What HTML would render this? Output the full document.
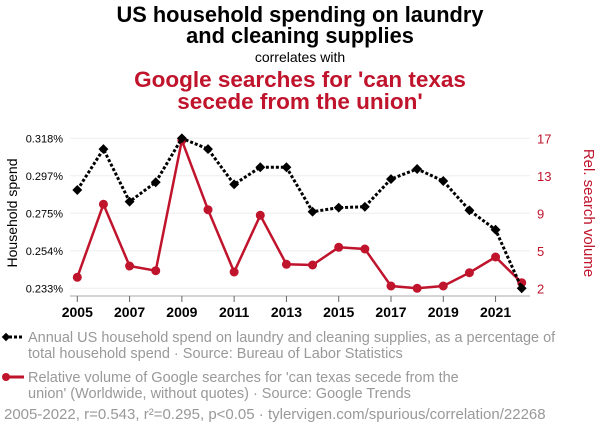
<!DOCTYPE html>
<html><head><meta charset="utf-8"><style>
body{margin:0;background:#fff;width:600px;height:436px;overflow:hidden;font-family:"Liberation Sans",sans-serif}
</style></head><body>
<svg width="600" height="436" font-family="Liberation Sans, sans-serif">
<text x="300" y="22" text-anchor="middle" font-size="21.8" font-weight="bold" fill="#000">US household spending on laundry</text>
<text x="300" y="43" text-anchor="middle" font-size="21.8" font-weight="bold" fill="#000">and cleaning supplies</text>
<text x="300" y="62" text-anchor="middle" font-size="14" fill="#000">correlates with</text>
<text x="300" y="87" text-anchor="middle" font-size="22.5" font-weight="bold" fill="#c0132c">Google searches for 'can texas</text>
<text x="300" y="109" text-anchor="middle" font-size="22.5" font-weight="bold" fill="#c0132c">secede from the union'</text>
<g id="grid"></g><g id="axes"></g><g id="series"></g>
<text transform="translate(17,213) rotate(-90)" text-anchor="middle" font-size="14" fill="#000">Household spend</text>
<text transform="translate(584,213) rotate(90)" text-anchor="middle" font-size="15" fill="#c0132c">Rel. search volume</text>
<g font-size="14.5" fill="#999">
<line x1="4" y1="337" x2="24" y2="337" stroke="#000" stroke-width="3" stroke-dasharray="3,2"/>
<rect x="3" y="334" width="6" height="6" transform="rotate(45 6 337)" fill="#000"/>
<text x="28" y="342">Annual US household spend on laundry and cleaning supplies, as a percentage of</text>
<text x="28" y="358">total household spend · Source: Bureau of Labor Statistics</text>
<line x1="4" y1="377" x2="24" y2="377" stroke="#c0132c" stroke-width="3"/>
<circle cx="6" cy="377" r="4" fill="#c0132c"/>
<text x="28" y="382">Relative volume of Google searches for 'can texas secede from the</text>
<text x="28" y="398">union' (Worldwide, without quotes) · Source: Google Trends</text>
<text x="4" y="419" font-size="15">2005-2022, r=0.543, r²=0.295, p&lt;0.05 · tylervigen.com/spurious/correlation/22268</text>
</g>
</svg>
<script>
const years=[2005,2006,2007,2008,2009,2010,2011,2012,2013,2014,2015,2016,2017,2018,2019,2020,2021,2022];
const spend=[0.2887,0.3119,0.2821,0.2931,0.318,0.3119,0.2919,0.3016,0.3016,0.2764,0.2787,0.2792,0.2949,0.3006,0.2938,0.2772,0.2662,0.233];
const search=[3.1,10.4,4.23,3.76,16.8,9.86,3.63,9.3,4.4,4.33,6.1,5.93,2.23,2.0,2.23,3.56,5.13,2.56];
const leftTicks=["0.318%","0.297%","0.275%","0.254%","0.233%"];
const rightTicks=["17","13","9","5","2"];
const xTicks=[2005,2007,2009,2011,2013,2015,2017,2019,2021];
const NS="http://www.w3.org/2000/svg";
const X=y=>77.3+(y-2005)*(521.7-77.3)/17;
const YL=v=>288.3-(v-0.233)/(0.318-0.233)*150;
const YR=v=>288.3-(v-2)/15*150;
function mk(t,a,p){const e=document.createElementNS(NS,t);for(const k in a)e.setAttribute(k,a[k]);p.appendChild(e);return e;}
const grid=document.getElementById('grid'),axes=document.getElementById('axes'),ser=document.getElementById('series');
leftTicks.forEach((t,i)=>{const y=138.3+i*37.5;
 const g=mk('line',{x1:70,x2:530,y1:y,y2:y,stroke:'#eee','stroke-width':1},grid);
 
 
 const l=mk('text',{x:63,y:y+4,'text-anchor':'end','font-size':11,fill:'#000'},axes);l.textContent=t;
 
 
 const r=mk('text',{x:537,y:y+5,'font-size':13,fill:'#c0132c'},axes);r.textContent=rightTicks[i];
 
 
});
const ax=mk('line',{x1:70,x2:530,y1:296,y2:296,stroke:'#aaa'},axes);


xTicks.forEach(yr=>{const x=X(yr);
 const t=mk('line',{x1:x,x2:x,y1:296,y2:302,stroke:'#666'},axes);
 
 
 const l=mk('text',{x:x,y:317,'text-anchor':'middle','font-size':14,'font-weight':'bold',fill:'#000'},axes);l.textContent=yr;
 
 
});
const rp=mk('polyline',{points:years.map((y,i)=>X(y)+','+YR(search[i])).join(' '),fill:'none',stroke:'#c0132c','stroke-width':2.5},ser);


years.forEach((y,i)=>{const c=mk('circle',{cx:X(y),cy:YR(search[i]),r:4.5,fill:'#c0132c'},ser);
 
 });
const bp=mk('polyline',{points:years.map((y,i)=>X(y)+','+YL(spend[i])).join(' '),fill:'none',stroke:'#000','stroke-width':3,'stroke-dasharray':'3,2'},ser);


years.forEach((y,i)=>{const x=X(y),yy=YL(spend[i]);
 const r=mk('rect',{x:x-3.5,y:yy-3.5,width:7,height:7,transform:`rotate(45 ${x} ${yy})`,fill:'#000'},ser);
 
 });
</script>
</body></html>
